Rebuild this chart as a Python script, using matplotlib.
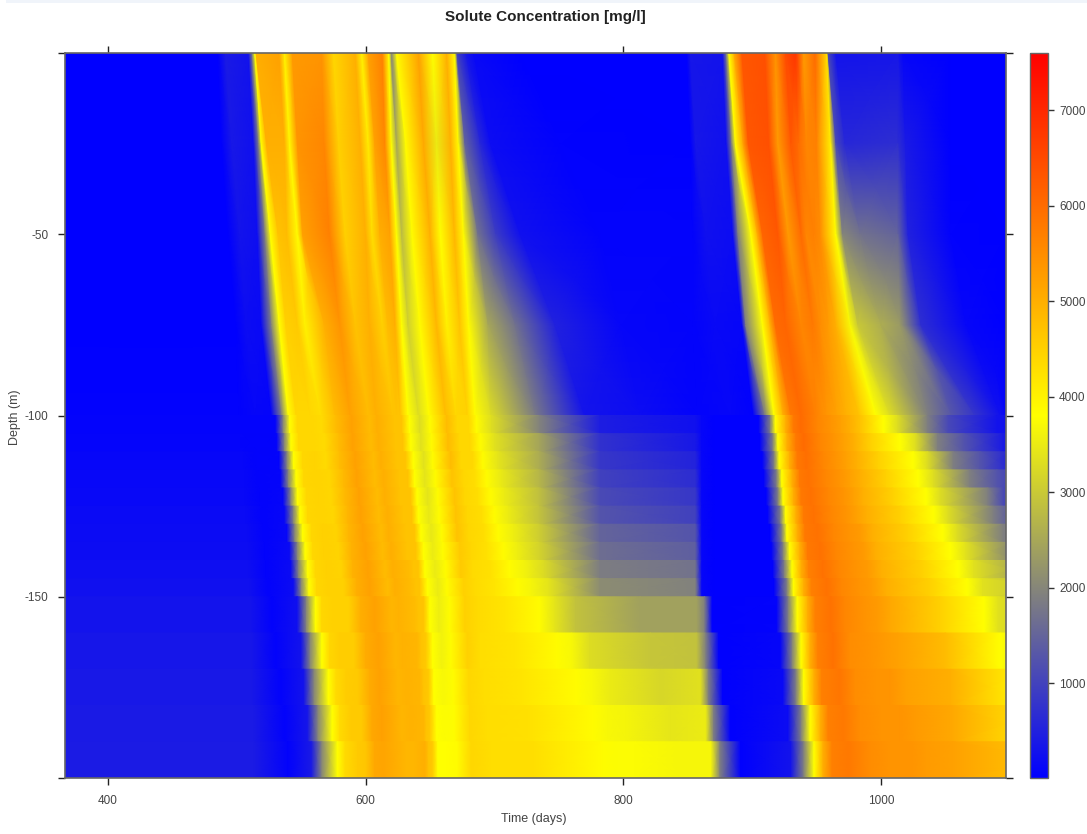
import numpy as np
import matplotlib
matplotlib.use("Agg")
import matplotlib.pyplot as plt
from matplotlib.cm import ScalarMappable
from matplotlib.colors import LinearSegmentedColormap, Normalize
from matplotlib.patches import Rectangle

plt.rcParams['font.family'] = ['Liberation Sans', 'DejaVu Sans']

# depth levels: the first five are smooth, the rest are the flat model layers
smooth_depth = [0, -25, -50, -75, -100]
layer_edges = [-100, -105, -110, -115, -120, -125, -130, -135, -140, -145, -150,
               -160, -170, -180, -190, -200]

# each track follows one feature of the plume down through the 20 levels
track_days = [
    [367]*20,
    [485,488,493,499,502,503,503,505,506,506,507,508,509,509,510,511,512,512,513,513],
    [491,496,502,507,514,515,516,516,517,518,520,521,522,523,524,527,530,534,537,540],
    [509,513,516,519,527,530,531,533,534,536,537,539,541,542,544,547,550,552,555,558],
    [512,517,522,527,535,536,537,539,540,542,544,545,547,548,550,554,557,560,563,566],
    [514,519,526,533,540,541,542,544,546,547,549,551,553,555,556,561,566,571,574,578],
    [515,523,532,538,546,547,548,551,552,554,555,558,559,561,562,566,572,577,580,584],
    [533,537,539,547,557,558,559,561,562,564,565,567,568,570,571,575,580,585,589,594],
    [537,541,547,553,565,566,568,569,572,573,575,577,579,581,583,587,591,594,597,600],
    [543,547,551,568,576,577,579,580,583,584,586,587,589,590,593,596,600,603,605,607],
    [566,568,572,580,588,589,590,592,593,595,596,598,600,602,603,607,610,611,613,614],
    [575,579,584,592,602,603,604,606,607,609,610,612,613,615,617,620,623,625,628,631],
    [592,596,600,603,608,609,610,612,614,615,617,618,620,621,623,626,629,632,635,638],
    [597,602,605,613,621,622,623,624,626,627,629,631,632,634,635,638,640,642,645,646],
    [602,607,611,617,624,625,626,628,630,631,633,634,636,637,639,641,643,645,647,649],
    [613,615,619,623,627,628,629,631,633,635,636,638,639,641,642,645,647,649,650,652],
    [618,620,624,628,633,634,635,637,638,640,641,643,645,646,648,650,652,653,655,656],
    [620,624,628,633,641,642,643,645,646,648,649,651,652,654,656,657,659,660,662,663],
    [624,631,636,642,649,650,651,652,654,656,657,659,660,662,663,665,666,668,669,671],
    [641,645,650,655,662,663,664,666,667,669,670,671,673,674,676,677,679,680,681,682],
    [652,655,658,663,670,671,673,674,676,677,679,680,682,683,685,687,689,692,694,697],
    [663,666,669,673,679,680,681,683,685,687,690,692,694,697,700,708,716,721,726,729],
    [669,672,676,680,685,686,689,691,694,697,700,703,707,712,718,735,749,764,777,784],
    [671,677,687,695,697,698,700,703,706,708,711,715,718,724,729,747,760,776,788,796],
    [678,689,701,716,732,735,735,735,735,735,735,735,735,739,742,763,774,790,802,809],
    [684,697,720,747,770,782,782,782,782,782,782,782,782,782,782,813,821,829,837,844],
    [720,751,782,798,813,856,856,856,856,856,856,856,856,856,856,857,857,860,864,868],
    [849,852,854,854,858,861,861,861,861,861,861,861,861,861,861,863,864,866,870,875],
    [852,856,864,871,883,871,871,871,871,871,871,871,871,871,871,869,874,877,883,891],
    [877,880,885,892,901,905,906,908,909,911,912,914,915,916,917,919,922,924,928,930],
    [880,884,889,895,910,914,916,917,919,920,922,923,924,925,927,928,931,934,938,940],
    [882,887,899,908,917,918,920,921,923,924,926,927,929,931,932,935,938,940,945,948],
    [886,893,904,914,924,926,927,929,931,932,934,935,937,938,940,943,945,948,953,955],
    [892,897,908,918,930,932,934,935,937,938,940,941,943,944,946,949,951,954,959,962],
    [910,913,920,926,938,938,940,942,944,946,948,951,953,955,958,961,963,968,971,975],
    [918,920,928,938,949,951,953,955,957,959,961,963,965,967,969,972,976,980,984,992],
    [926,930,938,947,957,961,963,965,968,971,973,976,979,981,984,988,992,996,1000,1007],
    [934,936,942,953,965,969,971,973,976,979,981,984,987,990,993,998,1003,1007,1015,1023],
    [940,942,948,959,972,976,979,981,984,986,989,993,996,1000,1004,1007,1013,1019,1027,1035],
    [949,950,953,965,983,984,992,998,1004,1009,1015,1021,1027,1032,1038,1046,1050,1054,1055,1056],
    [958,961,965,976,996,1002,1015,1025,1029,1035,1041,1048,1054,1060,1067,1080,1093,1116,1139,1217],
    [959,965,970,982,1007,1013,1027,1036,1041,1046,1052,1059,1066,1072,1079,1091,1104,1128,1151,1229],
    [965,972,984,1000,1036,1036,1044,1056,1069,1083,1087,1095,1104,1130,1202,1209,1248,1264,1279,1295],
    [1013,1013,1013,1015,1054,1052,1064,1077,1090,1095,1101,1105,1124,1147,1217,1225,1264,1279,1295,1310],
    [1017,1019,1021,1031,1073,1090,1095,1101,1108,1112,1116,1124,1139,1163,1233,1240,1279,1295,1310,1326],
    [1054,1054,1054,1066,1093,1106,1111,1116,1124,1128,1132,1139,1155,1178,1248,1256,1295,1310,1326,1341],
    [1097,1097,1097,1097,1097,1150,1150,1150,1150,1150,1160,1170,1190,1270,1280,1290,1320,1330,1345,1360],
]

track_conc = [
    [20,20,20,20,40,60,80,100,120,140,160,180,200,220,250,300,340,380,400,420],
    [20,20,20,20,40,60,80,100,120,140,160,180,200,220,250,300,340,380,400,420],
    [400,380,300,200,100,60,60,60,60,60,60,60,60,60,60,60,60,60,60,60],
    [300,250,220,150,80,60,70,80,90,100,120,140,160,180,200,250,300,300,350,400],
    [2000]*20,
    [3800]*20,
    [5000,5000,4700,4500,4400,4400,4400,4400,4400,4400,4400,4400,4400,4400,4400,4400,4400,4350,4350,4350],
    [5200,5000,4800,4600,4400,4400,4400,4450,4450,4450,4450,4500,4500,4500,4500,4500,4550,4550,4600,4600],
    [4000,3900,3850,4000,4300,4350,4350,4350,4400,4400,4400,4450,4450,4450,4500,4500,4550,4600,4600,4650],
    [5300,5400,5200,5000,4800,4800,4800,4800,4850,4850,4900,4900,4950,4950,5000,5000,5050,5050,5100,5100],
    [5400,5600,5700,5400,5200,5200,5200,5200,5200,5200,5200,5200,5200,5200,5200,5200,5200,5200,5200,5150],
    [4400,4500,4500,4700,4800,4800,4800,4800,4800,4800,4800,4800,4800,4800,4800,4900,4900,4900,4900,4900],
    [5000,5000,5000,5000,5000,5000,5000,5000,5000,5000,5000,5000,5000,5000,5000,4950,4950,4950,4950,4900],
    [4000,4100,4300,4500,4700,4700,4700,4700,4700,4700,4700,4700,4700,4800,4800,4800,4900,4900,4900,5000],
    [5200,5200,5000,4800,4700,4700,4700,4700,4700,4700,4700,4700,4700,4700,4700,4700,4700,4700,4700,4700],
    [5700,5600,5200,5000,4700,4700,4700,4700,4700,4700,4700,4700,4700,4700,4700,4700,4600,4600,4600,4600],
    [3800]*20,
    [2000,2500,2800,3100,3300,3300,3350,3350,3400,3400,3450,3450,3500,3500,3500,3550,3600,3700,3750,3800],
    [3850]*20,
    [5200,5100,5000,4900,4800,4800,4800,4800,4700,4700,4700,4700,4600,4600,4500,4500,4500,4400,4400,4400],
    [3800,3500,3800,4000,4400,4400,4400,4400,4400,4400,4400,4400,4400,4350,4350,4350,4300,4300,4300,4300],
    [5000,5000,4900,4700,4500,4400,4400,4400,4300,4300,4300,4300,4250,4250,4200,4200,4200,4200,4250,4300],
    [3850]*20,
    [1000,1500,1700,2500,3300,3300,3350,3400,3450,3500,3500,3550,3550,3600,3650,3400,3700,3700,3700,3750],
    [350,600,900,1700,1800,1950,2450,2550,2700,2850,2900,3060,3150,3250,3400,2900,3300,3500,3650,3750],
    [150,200,250,500,300,450,750,830,980,1120,1270,1500,1650,1870,2100,2400,2950,3200,3430,3660],
    [20,40,60,100,200,250,380,530,680,830,980,1270,1420,1720,1950,2400,2900,3360,3510,3660],
    [20,20,60,60,60,100,100,100,100,100,100,100,100,100,100,1900,1900,1900,1900,1900],
    [350,350,250,150,100,30,30,30,30,30,30,30,30,30,30,30,30,30,30,30],
    [300,250,200,100,30,30,30,30,30,30,30,30,30,30,30,60,100,150,200,300],
    [1900]*20,
    [3800]*20,
    [5000,5200,5000,5000,5000,5000,5000,5000,5000,5000,5000,5000,5000,5000,5000,5000,5000,5000,5000,5000],
    [6300,6300,6100,6000,5800,5800,5800,5800,5800,5800,5800,5800,5800,5700,5700,5700,5700,5700,5700,5700],
    [6400,6400,6300,6100,6000,6000,6000,5950,5900,5900,5900,5900,5900,5900,5900,5900,5900,5850,5800,5800],
    [5400,5300,5300,5600,5700,5600,5600,5600,5600,5600,5600,5600,5600,5600,5600,5600,5500,5500,5500,5500],
    [6500,6300,6000,5800,5400,5400,5400,5400,5400,5400,5400,5400,5400,5400,5400,5400,5400,5400,5400,5400],
    [6800,6000,5600,5500,5200,5200,5200,5200,5200,5200,5200,5300,5300,5300,5300,5300,5300,5400,5400,5400],
    [5300,5600,5700,5300,5000,5000,5000,5000,5000,5000,5000,5000,5000,5000,5000,5100,5200,5200,5300,5300],
    [6000,5700,5500,5000,4700,4700,4500,4500,4500,4500,4500,4500,4500,4500,4500,4500,4800,5000,5100,5200],
    [4300,4000,3800,3700,3800,3800,3800,3800,3800,3800,3800,3800,3800,3800,3800,3800,3800,3800,3800,3800],
    [1100,1100,2000,3000,3300,3300,3300,3300,3300,3300,3300,3300,3350,3350,3350,3350,3500,3500,3500,3500],
    [300,600,1700,2600,1900,1900,1900,1900,1900,1900,1900,1900,1900,1900,1900,1900,1900,1900,1900,1900],
    [350,700,1500,2300,1300,1100,1270,1270,1270,1120,1300,1800,1800,1800,1800,1800,1800,1800,1800,1800],
    [100,400,500,700,800,300,400,500,800,800,1000,1500,1500,1500,1500,1500,1500,1500,1500,1500],
    [20,20,50,100,250,250,300,400,600,700,900,1300,1300,1300,1300,1300,1300,1300,1300,1300],
    [20,20,20,20,100,100,100,100,100,100,100,100,100,100,100,100,100,100,100,100],
]

time_ticks = [400, 600, 800, 1000]
depth_ticks = [0, -50, -100, -150, -200]
depth_labels = ['', '-50', '-100', '-150', '']
conc_ticks = [1000, 2000, 3000, 4000, 5000, 6000, 7000]
conc_range = (10, 7600)

days = np.array(track_days, dtype=float).T
conc = np.array(track_conc, dtype=float).T

cmap = LinearSegmentedColormap.from_list('byr', ['#0000ff', '#ffff00', '#ff0000'], N=512)
norm = Normalize(*conc_range)

W, H = 1087, 834
fig = plt.figure(figsize=(W/100, H/100), dpi=100)
fig.add_artist(Rectangle((6/W, 1-3/H), 1-6/W, 3/H, transform=fig.transFigure,
                         facecolor='#f0f4fa', edgecolor='none'))

ax = fig.add_axes([65/W, 1-778/H, 941/W, 725/H])

# upper part varies smoothly with depth
n_smooth = len(smooth_depth)
depth_grid = np.tile(np.array(smooth_depth, dtype=float)[:, None], (1, days.shape[1]))
ax.pcolormesh(days[:n_smooth], depth_grid, conc[:n_smooth], cmap=cmap, norm=norm,
              shading='gouraud', rasterized=True)

# lower part is one flat strip per layer
for i in range(len(layer_edges)-1):
    row = n_smooth + i
    x = np.vstack([days[row], days[row]])
    y = np.vstack([np.full(days.shape[1], float(layer_edges[i])),
                   np.full(days.shape[1], float(layer_edges[i+1]))])
    c = np.vstack([conc[row], conc[row]])
    ax.pcolormesh(x, y, c, cmap=cmap, norm=norm, shading='gouraud', rasterized=True)

ax.set_xlim(366.6, 1097)
ax.set_ylim(-199.7, 0)
ax.set_xticks(time_ticks)
ax.set_yticks(depth_ticks)
ax.set_yticklabels(depth_labels)
ax.tick_params(axis='both', which='major', direction='out', length=5, width=1,
               top=True, right=True, color='#222222', labelsize=8.5,
               labelcolor='#444444', pad=7)
for s in ax.spines.values():
    s.set_color('#666666')
    s.set_linewidth(1.2)

fig.text(534/W, 1-819/H, 'Time (days)', ha='center', va='center', fontsize=9, color='#444444')
fig.text(15/W, 1-417/H, 'Depth (m)', ha='center', va='center', rotation=90, fontsize=9, color='#444444')
fig.text(545/W, 1-17/H, 'Solute Concentration [mg/l]', ha='center', va='center',
         fontsize=11, fontweight='bold', color='#222222')

cax = fig.add_axes([1030/W, 1-778/H, 18/W, 725/H])
cb = fig.colorbar(ScalarMappable(norm=norm, cmap=cmap), cax=cax)
cb.set_ticks(conc_ticks)
cb.ax.tick_params(direction='out', length=4, width=1, color='#333333',
                  labelsize=8.5, labelcolor='#444444', pad=4)
cb.outline.set_edgecolor('#666666')
cb.outline.set_linewidth(1)

fig.savefig('out.png', dpi=100)
